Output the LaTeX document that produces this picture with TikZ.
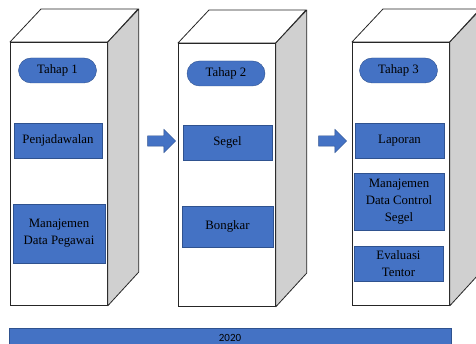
\documentclass[tikz,border=0pt]{standalone}
\usepackage{fontspec}
\setmainfont{Liberation Serif}
\newfontfamily\barfont{Carlito}
\usepackage{tikz}
\usetikzlibrary{shapes,arrows}
\usetikzlibrary{calc}
\usetikzlibrary{positioning}
\definecolor{blok}{RGB}{68,114,196}
\definecolor{blokline}{RGB}{47,82,143}
\definecolor{sisi}{RGB}{208,208,208}
\tikzstyle{front} = [draw=black!85, line width=0.8pt, fill=white, minimum width=97pt, minimum height=263pt, anchor=north west, inner sep=0pt]
\tikzstyle{face} = [draw=black!85, line width=0.8pt, line join=round]
\tikzstyle{tahap} = [rounded rectangle, draw=blokline, fill=blok, minimum width=78pt, minimum height=25pt, inner sep=0pt, font=\fontsize{12.8}{15}\selectfont]
\tikzstyle{tugas} = [rectangle, draw=blokline, fill=blok, inner sep=0pt, align=center, font=\fontsize{12.8}{17}\selectfont]
\tikzstyle{panah} = [single arrow, draw=blokline, fill=blok, inner sep=0pt, minimum height=28pt, single arrow head extend=6.5pt]

\begin{document}
\begin{tikzpicture}[x=1pt, y=-1pt, node distance=2cm, >=latex']
  \clip (0,0) rectangle (476,344);
  \node [front] (box1) at (10,42) {};
  \node [front] (box2) at (178,43) {};
  \node [front] (box3) at (352,42) {};
  \foreach \b in {box1,box2,box3} {
    \draw [face, fill=white] (\b.north west) -- ++(31,-33) -- ++(97,0) -- (\b.north east) -- cycle;
    \draw [face, fill=sisi] (\b.north east) -- ++(31,-33) -- ++(0,263) -- (\b.south east) -- cycle;
  }
  \node [tahap] (tahap1) at (57.5,70.5) {Tahap 1};
  \node [tahap] (tahap2) at (226,73.5) {Tahap 2};
  \node [tahap] (tahap3) at (398.5,70.5) {Tahap 3};
  \node [tugas, minimum width=88pt, minimum height=35pt] (jadwal) at (58,140.5) {Penjadawalan};
  \node [tugas, minimum width=92pt, minimum height=59pt] (pegawai) at (59,233.5) {Manajemen\\Data Pegawai};
  \node [tugas, minimum width=89pt, minimum height=35pt] (segel) at (227.5,142.5) {Segel};
  \node [tugas, minimum width=91pt, minimum height=41pt] (bongkar) at (227.5,226.5) {Bongkar};
  \node [tugas, minimum width=89pt, minimum height=35pt] (laporan) at (399.5,140.5) {Laporan};
  \node [tugas, minimum width=90pt, minimum height=57pt] (control) at (399,201.5) {Manajemen\\Data Control\\Segel};
  \node [tugas, minimum width=89pt, minimum height=35pt] (tentor) at (398.5,263.5) {Evaluasi\\Tentor};
  \node [panah] (panah1) at (159,141) {\rule{0pt}{10pt}};
  \node [panah] (panah2) at (330,141) {\rule{0pt}{10pt}};
  \node [rectangle, draw=blokline, fill=blok, minimum width=442pt, minimum height=20pt, inner sep=0pt, font=\barfont\fontsize{11}{13}\selectfont] (tahun) at (230,338) {2020};
\end{tikzpicture}
\end{document}
